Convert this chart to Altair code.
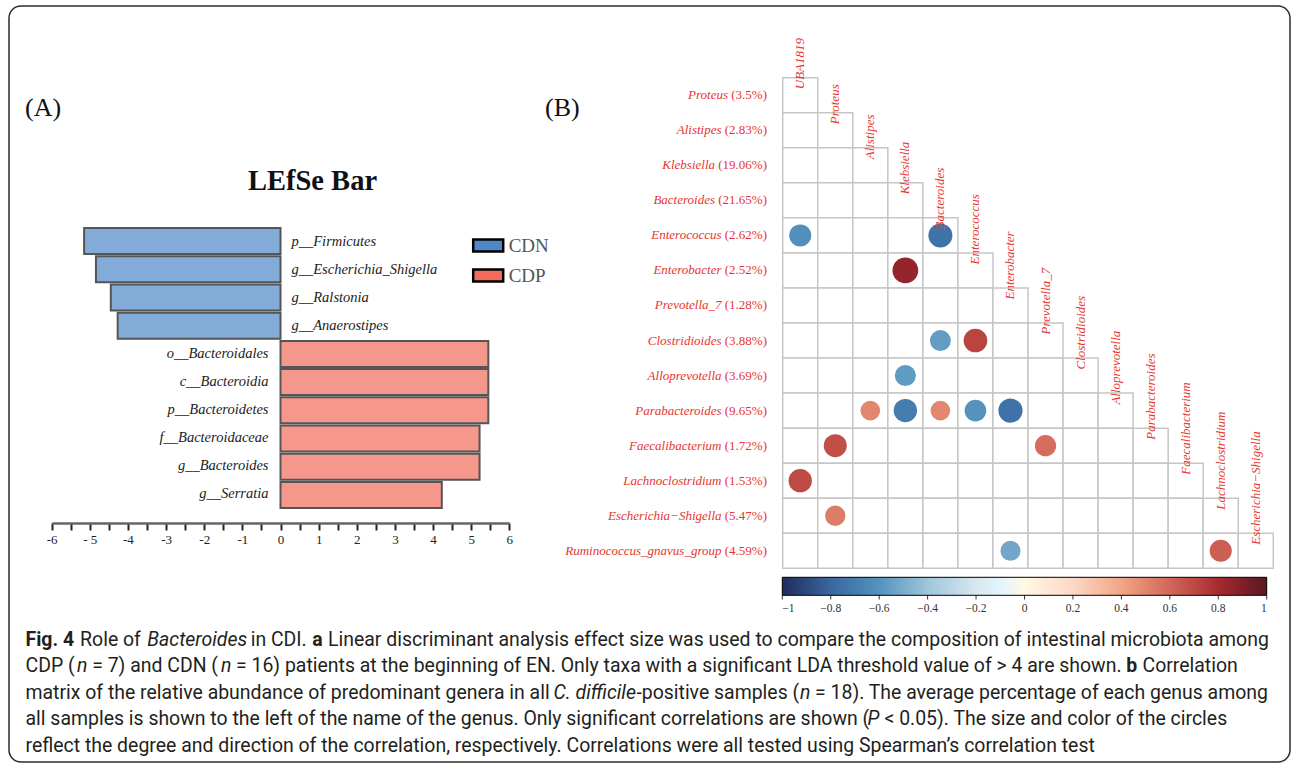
import altair as alt
import pandas as pd

# ---------------- Panel A: LEfSe data ----------------
lefse_taxa = ["p__Firmicutes", "g__Escherichia_Shigella", "g__Ralstonia", "g__Anaerostipes",
              "o__Bacteroidales", "c__Bacteroidia", "p__Bacteroidetes", "f__Bacteroidaceae",
              "g__Bacteroides", "g__Serratia"]
lefse_lda = [-5.15, -4.84, -4.45, -4.27, 5.45, 5.45, 5.45, 5.22, 5.22, 4.23]
lefse_group = ["CDN", "CDN", "CDN", "CDN", "CDP", "CDP", "CDP", "CDP", "CDP", "CDP"]
groups = ["CDN", "CDP"]
group_colors = ["#4f87c7", "#f26b5b"]
lda_ticks = [-6, -5.5, -5, -4.5, -4, -3.5, -3, -2.5, -2, -1.5, -1, -0.5, 0,
             0.5, 1, 1.5, 2, 2.5, 3, 3.5, 4, 4.5, 5, 5.5, 6]

# ---------------- Panel B: correlation matrix data ----------------
row_names = ["Proteus", "Alistipes", "Klebsiella", "Bacteroides", "Enterococcus", "Enterobacter",
             "Prevotella_7", "Clostridioides", "Alloprevotella", "Parabacteroides",
             "Faecalibacterium", "Lachnoclostridium", "Escherichia\u2212Shigella",
             "Ruminococcus_gnavus_group"]
row_pct = ["3.5%", "2.83%", "19.06%", "21.65%", "2.62%", "2.52%", "1.28%", "3.88%", "3.69%",
           "9.65%", "1.72%", "1.53%", "5.47%", "4.59%"]
col_names = ["UBA1819", "Proteus", "Alistipes", "Klebsiella", "Bacteroides", "Enterococcus",
             "Enterobacter", "Prevotella_7", "Clostridioides", "Alloprevotella", "Parabacteroides",
             "Faecalibacterium", "Lachnoclostridium", "Escherichia\u2212Shigella"]

corr_row = ["Enterococcus", "Enterococcus", "Enterobacter", "Clostridioides", "Clostridioides",
            "Alloprevotella", "Parabacteroides", "Parabacteroides", "Parabacteroides",
            "Parabacteroides", "Parabacteroides", "Faecalibacterium", "Faecalibacterium",
            "Lachnoclostridium", "Escherichia\u2212Shigella", "Ruminococcus_gnavus_group",
            "Ruminococcus_gnavus_group"]
corr_col = ["UBA1819", "Bacteroides", "Klebsiella", "Bacteroides", "Enterococcus",
            "Klebsiella", "Alistipes", "Klebsiella", "Bacteroides", "Enterococcus",
            "Enterobacter", "Proteus", "Prevotella_7", "UBA1819", "Proteus", "Enterobacter",
            "Lachnoclostridium"]
corr_r = [-0.62, -0.74, 0.85, -0.56, 0.72, -0.57, 0.50, -0.70, 0.50, -0.60, -0.75,
          0.68, 0.58, 0.70, 0.53, -0.52, 0.63]

cb_stops = [-1, -0.8, -0.6, -0.4, -0.2, 0, 0.2, 0.4, 0.6, 0.8, 1]
cb_colors = ["#1f2d5a", "#3a67a0", "#5593bd", "#9fc6dc", "#d7e7f0", "#ffffff",
             "#fbd9c6", "#f2a587", "#d2665a", "#a82a30", "#5a1820"]

# ---------------- Caption text ----------------
caption_lines = [
    [("b", "Fig. 4"), ("n", " Role of "), ("i", "Bacteroides"), ("n", " in CDI. "), ("b", "a"),
     ("n", " Linear discriminant analysis effect size was used to compare the composition of intestinal microbiota among")],
    [("n", "CDP ("), ("i", "n"), ("n", " = 7) and CDN ("), ("i", "n"),
     ("n", " = 16) patients at the beginning of EN. Only taxa with a significant LDA threshold value of > 4 are shown. "),
     ("b", "b"), ("n", " Correlation")],
    [("n", "matrix of the relative abundance of predominant genera in all "), ("i", "C. difficile"),
     ("n", "-positive samples ("), ("i", "n"), ("n", " = 18). The average percentage of each genus among")],
    [("n", "all samples is shown to the left of the name of the genus. Only significant correlations are shown ("),
     ("i", "P"), ("n", " < 0.05). The size and color of the circles")],
    [("n", "reflect the degree and direction of the correlation, respectively. Correlations were all tested using Spearman\u2019s correlation test")],
]

# ---------------- styling / layout helpers ----------------
W, H = 1292, 764
SERIF = "Liberation Serif"
SANS = "Roboto"
RED = "#e8352f"

# approximate Roboto advance widths (per 2048 em) to lay out mixed-style caption runs
RW = {' ': 507, 'a': 1087, 'b': 1122, 'c': 1046, 'd': 1126, 'e': 1057, 'f': 696, 'g': 1122,
      'h': 1101, 'i': 486, 'j': 478, 'k': 1013, 'l': 486, 'm': 1751, 'n': 1103, 'o': 1140,
      'p': 1122, 'q': 1136, 'r': 677, 's': 1030, 't': 654, 'u': 1101, 'v': 968, 'w': 1502,
      'x': 991, 'y': 945, 'z': 991, 'A': 1336, 'B': 1278, 'C': 1336, 'D': 1344, 'E': 1164,
      'F': 1132, 'G': 1397, 'H': 1462, 'I': 558, 'J': 1131, 'K': 1286, 'L': 1103, 'M': 1789,
      'N': 1462, 'O': 1410, 'P': 1293, 'Q': 1410, 'R': 1262, 'S': 1217, 'T': 1223, 'U': 1330,
      'V': 1303, 'W': 1818, 'X': 1286, 'Y': 1230, 'Z': 1226, '.': 539, ',': 393, '(': 699,
      ')': 712, '-': 565, '=': 1125, '<': 1041, '>': 1070, '\u2019': 401}
for d in "0123456789":
    RW[d] = 1151
STYLE_K = {"n": 1.016, "b": 1.06, "i": 0.975}
ITALIC_NUDGE = 1.6   # slanted glyphs need a little room after an upright run


def run_w(s, style):
    return sum(RW.get(c, 1100) for c in s) * STYLE_K[style] / 2048.0


CAP_X0, CAP_X1 = 25.5, 1262.0
cap_fs = (CAP_X1 - CAP_X0) / sum(run_w(t, s) for s, t in caption_lines[0])
cap_base = [646, 672.4, 698.8, 725.2, 751.6]
cap_rows = []
for li, segs in enumerate(caption_lines):
    x = CAP_X0
    for k, (style, t) in enumerate(segs):
        lead = len(t) - len(t.lstrip(" "))
        xs = x + run_w(" " * lead, style) * cap_fs
        if style == "i" and k > 0:
            xs += ITALIC_NUDGE
            x += ITALIC_NUDGE
        if t.strip():
            cap_rows.append({"t": t.strip(), "s": style, "x": xs, "y": cap_base[li]})
        x += run_w(t, style) * cap_fs
dfCap = pd.DataFrame(cap_rows)

# Times / Liberation Serif widths for the percentage labels (per 1000 em)
TW = {'(': 333, ')': 333, '%': 833, '.': 250, ' ': 250}
for d in "0123456789":
    TW[d] = 500
ROW_FS = 13
PCT_X = 767
pct_txt = ["(" + p + ")" for p in row_pct]
name_x = [PCT_X - sum(TW[c] for c in " " + p) / 1000.0 * ROW_FS for p in pct_txt]

one = pd.DataFrame({"k": [0]})

# ---------------- frame and static text ----------------
frame = alt.Chart(one).mark_rect(fill="transparent", stroke="#2b2b2b", strokeWidth=1.5,
                                 cornerRadius=12).encode(
    x=alt.value(9), x2=alt.value(1290), y=alt.value(6), y2=alt.value(762))

lab_a = alt.Chart(one).mark_text(text="(A)", font=SERIF, fontSize=26, align="left",
                                 baseline="alphabetic", color="#111").encode(
    x=alt.value(25), y=alt.value(116))
lab_b = alt.Chart(one).mark_text(text="(B)", font=SERIF, fontSize=26, align="left",
                                 baseline="alphabetic", color="#111").encode(
    x=alt.value(545), y=alt.value(116))
title_a = alt.Chart(one).mark_text(text="LEfSe Bar", font=SERIF, fontSize=28.5,
                                   fontWeight="bold", align="center", baseline="alphabetic",
                                   color="#111").encode(x=alt.value(312.5), y=alt.value(190))

# ---------------- Panel A ----------------
dfA = pd.DataFrame({"taxon": lefse_taxa, "lda": lefse_lda, "group": lefse_group})
xA = alt.Scale(domain=[-6, 6], range=[51.7, 509.3], nice=False)
yA = alt.Scale(domain=lefse_taxa, range=[228, 508], paddingInner=0.078, paddingOuter=0)

axisA = alt.Axis(values=lda_ticks, orient="bottom", offset=523 - H, title=None, grid=False,
                 labelExpr="datum.value % 1 != 0 ? '' : (datum.value == -5 ? '- 5' : '' + datum.value)",
                 labelFont=SERIF, labelFontSize=13, labelColor="#222", labelPadding=3,
                 domainColor="#666", domainWidth=2.5, tickColor="#222", tickWidth=2,
                 tickSize=7, labelOverlap=False, labelFlush=False)

bars = alt.Chart(dfA).mark_bar(fillOpacity=0.7, stroke="#555555", strokeWidth=2).encode(
    x=alt.X("lda:Q", scale=xA, axis=axisA),
    x2=alt.datum(0),
    y=alt.Y("taxon:N", scale=yA, axis=None),
    color=alt.Color("group:N", scale=alt.Scale(domain=groups, range=group_colors), legend=None))

lab_neg = alt.Chart(dfA).transform_filter("datum.lda < 0").transform_calculate(zero="0").mark_text(
    align="left", baseline="middle", dx=11, font=SERIF, fontStyle="italic", fontSize=14.5,
    color="#222").encode(
    x=alt.X("zero:Q", scale=xA, axis=None), y=alt.Y("taxon:N", scale=yA, axis=None),
    text="taxon:N")
lab_pos = alt.Chart(dfA).transform_filter("datum.lda > 0").transform_calculate(zero="0").mark_text(
    align="right", baseline="middle", dx=-12, font=SERIF, fontStyle="italic", fontSize=14.5,
    color="#222").encode(
    x=alt.X("zero:Q", scale=xA, axis=None), y=alt.Y("taxon:N", scale=yA, axis=None),
    text="taxon:N")

dfG = pd.DataFrame({"group": groups})
leg_a = alt.Chart(dfG).mark_rect(stroke="black", strokeWidth=2.5).encode(
    x=alt.value(-40), x2=alt.value(-30), y=alt.value(-40), y2=alt.value(-30),
    color=alt.Color("group:N", scale=alt.Scale(domain=groups, range=group_colors),
                    legend=alt.Legend(orient="none", legendX=474.7, legendY=232, title=None,
                                      symbolType="M-1.25,-0.5H1.25V0.5H-1.25Z", symbolSize=576,
                                      symbolStrokeColor="black", symbolStrokeWidth=2.5,
                                      symbolOpacity=1, labelFont=SERIF, labelFontSize=19,
                                      labelColor="#555", labelOffset=7, rowPadding=5)))

# ---------------- Panel B ----------------
xB = alt.Scale(domain=col_names, range=[782.7, 1273.3], paddingInner=0, paddingOuter=0)
yB = alt.Scale(domain=row_names, range=[77.7, 568.3], paddingInner=0, paddingOuter=0)

cells = [{"row": r, "col": c} for i, r in enumerate(row_names) for c in col_names[:i + 1]]
dfCells = pd.DataFrame(cells)
grid = alt.Chart(dfCells).mark_rect(fill="white", stroke="#c6c6c6", strokeWidth=1.5).encode(
    x=alt.X("col:N", scale=xB, axis=None), y=alt.Y("row:N", scale=yB, axis=None))

dfC = pd.DataFrame({"row": corr_row, "col": corr_col, "r": corr_r})
circ = alt.Chart(dfC).transform_calculate(absr="abs(datum.r)").mark_circle(opacity=1).encode(
    x=alt.X("col:N", scale=xB, axis=None),
    y=alt.Y("row:N", scale=yB, axis=None),
    size=alt.Size("absr:Q", scale=alt.Scale(domain=[0, 1], range=[0, 779]), legend=None),
    color=alt.Color("r:Q", scale=alt.Scale(domain=cb_stops, range=cb_colors),
                    legend=alt.Legend(orient="none", legendX=782.3, legendY=577.3,
                                      direction="horizontal", gradientLength=484.4,
                                      gradientThickness=18, title=None, values=cb_stops,
                                      format=".1~f", labelFont=SERIF, labelFontSize=11.5,
                                      labelColor="#333", labelOffset=8,
                                      gradientStrokeColor="black", gradientStrokeWidth=1,
                                      labelAlign="center", labelOverlap=False)))

dfT = pd.DataFrame({"v": cb_stops})
cb_ticks = alt.Chart(dfT).mark_rule(color="#333", strokeWidth=1).encode(
    x=alt.X("v:Q", scale=alt.Scale(domain=[-1, 1], range=[782.3, 1266.7], nice=False, zero=False),
            axis=None),
    y=alt.value(595.3), y2=alt.value(599.5))

dfR = pd.DataFrame({"row": row_names, "pct": pct_txt, "nx": name_x})
pct_text = alt.Chart(dfR).mark_text(align="right", baseline="middle", font=SERIF,
                                    fontSize=ROW_FS, color=RED).encode(
    x=alt.value(PCT_X), y=alt.Y("row:N", scale=yB, axis=None), text="pct:N")
name_text = alt.Chart(dfR).mark_text(align="right", baseline="middle", font=SERIF,
                                     fontStyle="italic", fontSize=ROW_FS, color=RED).encode(
    x=alt.X("nx:Q", scale=None), y=alt.Y("row:N", scale=yB, axis=None), text="row:N")

dfL = pd.DataFrame({"col": col_names, "rowref": row_names})
col_text = alt.Chart(dfL).mark_text(angle=270, align="left", baseline="middle", dx=6,
                                    font=SERIF, fontStyle="italic", fontSize=ROW_FS,
                                    color=RED).encode(
    x=alt.X("col:N", scale=xB, axis=None),
    y=alt.Y("rowref:N", scale=yB, axis=None, bandPosition=0),
    text="col:N")

# ---------------- Caption ----------------
def cap_layer(style, weight, fstyle):
    return alt.Chart(dfCap).transform_filter(alt.datum.s == style).mark_text(
        align="left", baseline="alphabetic", font=SANS, fontSize=cap_fs, fontWeight=weight,
        fontStyle=fstyle, color="#231f20").encode(
        x=alt.X("x:Q", scale=None), y=alt.Y("y:Q", scale=None), text="t:N")


cap_n = cap_layer("n", "normal", "normal")
cap_b = cap_layer("b", "bold", "normal")
cap_i = cap_layer("i", "normal", "italic")

chart = alt.layer(
    frame, lab_a, lab_b, title_a, bars, lab_neg, lab_pos, leg_a,
    grid, circ, cb_ticks, pct_text, name_text, col_text, cap_n, cap_b, cap_i
).resolve_scale(
    x="independent", y="independent", color="independent", size="independent"
).properties(
    width=W, height=H, autosize=alt.AutoSizeParams(type="none"), padding=0, background="white"
).configure_view(stroke="transparent", strokeWidth=0)

chart.save("out.html", embed_options={"renderer": "svg", "actions": False})
